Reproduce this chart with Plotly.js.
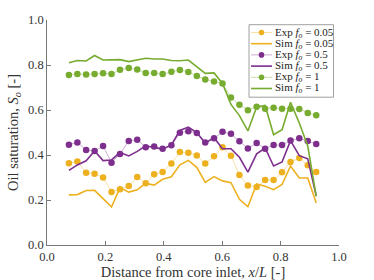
<!DOCTYPE html>
<html>
<head>
<meta charset="utf-8">
<script src="https://cdn.plot.ly/plotly-3.0.1.min.js"></script>
<style>html,body{margin:0;padding:0;background:#fff;}#chart{width:374px;height:280px;}</style>
</head>
<body>
<div id="chart"></div>
<script>
// Distance from core inlet, x/L
const xPos = [0.075, 0.104, 0.134, 0.163, 0.192, 0.221, 0.250, 0.280, 0.309, 0.338,
              0.367, 0.396, 0.426, 0.455, 0.484, 0.513, 0.542, 0.572, 0.601, 0.630,
              0.659, 0.688, 0.718, 0.747, 0.776, 0.805, 0.834, 0.864, 0.893, 0.922];

const expF005 = [0.363, 0.371, 0.321, 0.317, 0.300, 0.236, 0.248, 0.262, 0.302, 0.275,
                 0.314, 0.325, 0.362, 0.413, 0.410, 0.398, 0.362, 0.394, 0.434, 0.397,
                 0.311, 0.264, 0.258, 0.289, 0.289, 0.323, 0.369, 0.387, 0.354, 0.324];
const simF005 = [0.223, 0.224, 0.242, 0.243, 0.206, 0.169, 0.255, 0.235, 0.245, 0.274,
                 0.266, 0.292, 0.303, 0.356, 0.376, 0.345, 0.278, 0.304, 0.285, 0.277,
                 0.203, 0.170, 0.271, 0.261, 0.246, 0.269, 0.351, 0.298, 0.298, 0.187];
const expF05  = [0.446, 0.456, 0.422, 0.418, 0.440, 0.366, 0.405, 0.462, 0.468, 0.434,
                 0.438, 0.428, 0.443, 0.499, 0.506, 0.498, 0.456, 0.474, 0.503, 0.494,
                 0.461, 0.429, 0.453, 0.428, 0.444, 0.444, 0.464, 0.474, 0.462, 0.449];
const simF05  = [0.332, 0.356, 0.374, 0.418, 0.375, 0.378, 0.411, 0.396, 0.416, 0.441,
                 0.433, 0.426, 0.445, 0.509, 0.524, 0.500, 0.453, 0.477, 0.428, 0.428,
                 0.390, 0.324, 0.405, 0.431, 0.351, 0.369, 0.464, 0.397, 0.383, 0.219];
const expF1   = [0.756, 0.760, 0.758, 0.760, 0.763, 0.760, 0.779, 0.787, 0.780, 0.764,
                 0.764, 0.760, 0.770, 0.778, 0.769, 0.751, 0.736, 0.727, 0.718, 0.656,
                 0.623, 0.599, 0.615, 0.606, 0.610, 0.606, 0.606, 0.605, 0.587, 0.577];
const simF1   = [0.810, 0.820, 0.818, 0.842, 0.822, 0.822, 0.824, 0.815, 0.822, 0.830,
                 0.827, 0.827, 0.820, 0.819, 0.822, 0.793, 0.763, 0.765, 0.718, 0.625,
                 0.575, 0.507, 0.613, 0.620, 0.490, 0.512, 0.634, 0.542, 0.440, 0.216];

const seriesNames = ['Exp <i>f</i><sub><i>o</i></sub> = 0.05', 'Sim <i>f</i><sub><i>o</i></sub> = 0.05',
                     'Exp <i>f</i><sub><i>o</i></sub> = 0.5',  'Sim <i>f</i><sub><i>o</i></sub> = 0.5',
                     'Exp <i>f</i><sub><i>o</i></sub> = 1',    'Sim <i>f</i><sub><i>o</i></sub> = 1'];
const tickVals = [0, 0.2, 0.4, 0.6, 0.8, 1.0];

const FONT = 'Liberation Serif';
const colors = {orange: '#EDB120', purple: '#7E2F8E', green: '#77AC30'};
const faded = {orange: 'rgba(237,177,32,0.5)', purple: 'rgba(126,47,142,0.5)', green: 'rgba(119,172,48,0.5)'};

const seriesDefs = [
  {y: expF005, kind: 'exp', c: 'orange'},
  {y: simF005, kind: 'sim', c: 'orange'},
  {y: expF05,  kind: 'exp', c: 'purple'},
  {y: simF05,  kind: 'sim', c: 'purple'},
  {y: expF1,   kind: 'exp', c: 'green'},
  {y: simF1,   kind: 'sim', c: 'green'}
];

const traces = seriesDefs.map((s, i) => s.kind === 'exp' ? {
  x: xPos, y: s.y, type: 'scatter', mode: 'lines+markers', name: seriesNames[i],
  line: {color: faded[s.c], width: 0.8},
  marker: {color: colors[s.c], size: 6.5},
  showlegend: false
} : {
  x: xPos, y: s.y, type: 'scatter', mode: 'lines', name: seriesNames[i],
  line: {color: colors[s.c], width: 1.6},
  showlegend: false
});

// Compact legend drawn with shapes + annotations (paper coordinates)
const L = 47, R = 339, T = 20.3, B = 245.3;
const px = v => (v - L) / (R - L);
const py = v => (B - v) / (B - T);
const rowY = [32.8, 44.0, 55.2, 66.4, 77.6, 88.8];
const shapes = [{
  type: 'rect', xref: 'paper', yref: 'paper',
  x0: px(249), x1: px(333.5), y0: py(97.5), y1: py(25),
  line: {color: '#888', width: 0.8}, fillcolor: 'rgba(255,255,255,1)', layer: 'above'
}];
const annotations = [];
seriesDefs.forEach((s, i) => {
  const yy = py(rowY[i]);
  shapes.push({
    type: 'line', xref: 'paper', yref: 'paper', x0: px(251), x1: px(272), y0: yy, y1: yy,
    line: {color: s.kind === 'exp' ? faded[s.c] : colors[s.c], width: s.kind === 'exp' ? 0.8 : 1.6},
    layer: 'above'
  });
  if (s.kind === 'exp') {
    shapes.push({
      type: 'circle', xref: 'paper', yref: 'paper', xsizemode: 'pixel', ysizemode: 'pixel',
      xanchor: px(261.5), yanchor: yy, x0: -2.8, x1: 2.8, y0: -2.8, y1: 2.8,
      fillcolor: colors[s.c], line: {width: 0}, layer: 'above'
    });
  }
  annotations.push({
    xref: 'paper', yref: 'paper', x: px(273), y: yy, xanchor: 'left', yanchor: 'middle',
    text: seriesNames[i], showarrow: false, font: {size: 11, color: '#222', family: FONT}
  });
});

const axisCommon = {
  range: [0, 1], tickvals: tickVals, tickformat: '.1f',
  showline: true, linecolor: '#555', linewidth: 0.8, mirror: false,
  ticks: 'inside', ticklen: 4, tickwidth: 0.8, tickcolor: '#555',
  showgrid: false, zeroline: false,
  tickfont: {size: 12.5, color: '#333', family: FONT}
};

const layout = {
  width: 374, height: 280,
  margin: {l: L, r: 374 - R, t: T, b: 280 - B},
  paper_bgcolor: '#fff', plot_bgcolor: '#fff',
  showlegend: false,
  font: {family: FONT, color: '#333'},
  xaxis: Object.assign({}, axisCommon, {
    title: {text: 'Distance from core inlet, <i>x</i>/<i>L</i> [-]', font: {size: 14.5, color: '#333', family: FONT}, standoff: 3}
  }),
  yaxis: Object.assign({}, axisCommon, {
    title: {text: 'Oil saturation, <i>S</i><sub><i>o</i></sub> [-]', font: {size: 14.5, color: '#333', family: FONT}, standoff: 5}
  }),
  shapes: shapes,
  annotations: annotations
};

Plotly.newPlot('chart', traces, layout, {displayModeBar: false, staticPlot: true});
</script>
</body>
</html>
